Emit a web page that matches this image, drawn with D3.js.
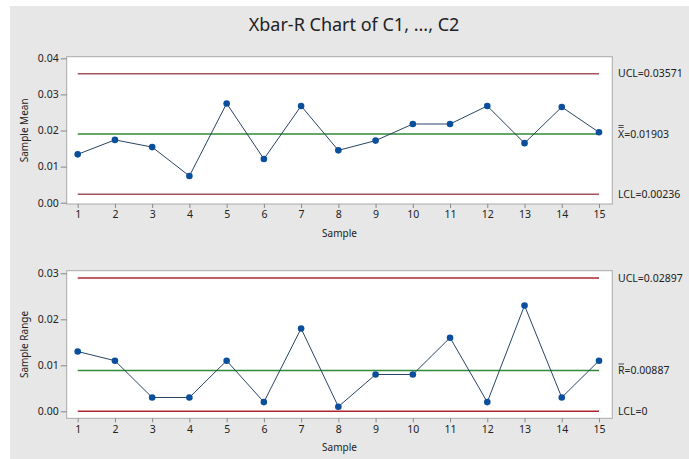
<!DOCTYPE html>
<html>
<head>
<meta charset="utf-8">
<script src="https://cdn.jsdelivr.net/npm/d3@7"></script>
<style>
  body { margin: 0; background: #fff; }
  text { font-family: "Noto Sans", "DejaVu Sans", sans-serif; fill: #222; }
</style>
</head>
<body>
<div id="chart"></div>
<script>
// data
const samples = d3.range(1, 16);
const sampleMeans = [0.0134, 0.0174, 0.0154, 0.0074, 0.0275, 0.0121, 0.0268, 0.0145,
  0.0172, 0.0218, 0.0218, 0.0268, 0.0165, 0.0265, 0.0195];
const sampleRanges = [0.013, 0.011, 0.003, 0.003, 0.011, 0.002, 0.018, 0.001,
  0.008, 0.008, 0.016, 0.002, 0.023, 0.003, 0.011];
const meanLimits = [0.03571, 0.01903, 0.00236];
const meanLimitLabels = [["", "UCL=0.03571"], ["X", "=0.01903"], ["", "LCL=0.00236"]];
const meanBars = [0, 2, 0];
const rangeLimits = [0.02897, 0.00887, 0];
const rangeLimitLabels = [["", "UCL=0.02897"], ["R", "=0.00887"], ["", "LCL=0"]];
const rangeBars = [0, 1, 0];
const meanTicks = [0, 0.01, 0.02, 0.03, 0.04];
const rangeTicks = [0, 0.01, 0.02, 0.03];

const width = 689, height = 459;
const frameLeft = 66.7, frameRight = 612.3;

const svg = d3.select("#chart").append("svg")
  .attr("width", width)
  .attr("height", height);

svg.append("rect")
  .attr("x", 10).attr("y", 6)
  .attr("width", width - 10).attr("height", height - 6)
  .attr("fill", "#e7e7e7");

svg.append("text")
  .attr("x", 354).attr("y", 31)
  .attr("text-anchor", "middle")
  .style("font-size", "18px")
  .text("Xbar-R Chart of C1, ..., C2");

const x = d3.scaleLinear().domain([1, 15]).range([77.7, 599]);

const drawPanel = (cfg) => {
  const y = d3.scaleLinear().domain(cfg.domain).range(cfg.range);
  const g = svg.append("g");

  g.append("rect")
    .attr("x", frameLeft).attr("y", cfg.top)
    .attr("width", frameRight - frameLeft).attr("height", cfg.bottom - cfg.top)
    .attr("fill", "#fff")
    .attr("stroke", "#a9a9a9")
    .attr("stroke-width", 1);

  // y axis
  const ya = g.append("g")
    .attr("transform", `translate(${frameLeft},0)`)
    .call(d3.axisLeft(y).tickValues(cfg.ticks).tickFormat(d3.format(".2f")).tickSize(6).tickPadding(2));
  ya.select(".domain").remove();
  ya.selectAll("line").attr("stroke", "#888");
  ya.selectAll("text").style("font-size", "10.5px").attr("fill", "#222");

  // x axis
  const xa = g.append("g")
    .attr("transform", `translate(0,${cfg.bottom})`)
    .call(d3.axisBottom(x).tickValues(samples).tickFormat(d3.format("d")).tickSize(4).tickPadding(3));
  xa.select(".domain").remove();
  xa.selectAll("line").attr("stroke", "#888");
  xa.selectAll("text").style("font-size", "10.5px").attr("fill", "#222");

  g.append("text")
    .attr("x", (frameLeft + frameRight) / 2).attr("y", cfg.bottom + 33)
    .attr("text-anchor", "middle")
    .style("font-size", "10px")
    .text("Sample");

  g.append("text")
    .attr("transform", `translate(28,${(cfg.top + cfg.bottom) / 2}) rotate(-90)`)
    .attr("text-anchor", "middle")
    .style("font-size", "10px")
    .text(cfg.yLabel);

  // control limits
  const colors = [cfg.limitColor, "#2f8a3a", cfg.limitColor];
  g.selectAll(".limit").data(cfg.limits).enter().append("line")
    .attr("x1", x(1)).attr("x2", x(15))
    .attr("y1", d => y(d)).attr("y2", d => y(d))
    .attr("stroke", (d, i) => colors[i])
    .attr("stroke-width", 1.5);

  cfg.limits.forEach((d, i) => {
    const [sym, rest] = cfg.limitLabels[i];
    const t = g.append("text")
      .attr("x", 618).attr("y", y(d))
      .attr("dy", "0.35em")
      .style("font-size", "10.5px");
    const s = t.append("tspan").text(sym);
    t.append("tspan").text(rest);
    if (cfg.bars[i] > 0) {
      // overbars above the symbol
      const w = s.node().getComputedTextLength();
      for (let b = 0; b < cfg.bars[i]; b++) {
        g.append("line")
          .attr("x1", 618.5).attr("x2", 618 + w - 0.5)
          .attr("y1", y(d) - 6.5 - b * 2).attr("y2", y(d) - 6.5 - b * 2)
          .attr("stroke", "#222")
          .attr("stroke-width", 0.8);
      }
    }
  });

  // data line and points
  const line = d3.line().x((d, i) => x(samples[i])).y(d => y(d));
  g.append("path")
    .datum(cfg.values)
    .attr("d", line)
    .attr("fill", "none")
    .attr("stroke", "#2a4466")
    .attr("stroke-width", 1);

  g.selectAll(".pt").data(cfg.values).enter().append("circle")
    .attr("cx", (d, i) => x(samples[i]))
    .attr("cy", d => y(d))
    .attr("r", 3.3)
    .attr("fill", "#0b4f9c");
};

drawPanel({
  domain: [0, 0.04], range: [202.7, 58.3], top: 56.7, bottom: 204,
  ticks: meanTicks, values: sampleMeans, limits: meanLimits,
  limitLabels: meanLimitLabels, bars: meanBars, limitColor: "#a4535c", yLabel: "Sample Mean"
});

drawPanel({
  domain: [0, 0.03], range: [411.3, 273.3], top: 270.7, bottom: 418.3,
  ticks: rangeTicks, values: sampleRanges, limits: rangeLimits,
  limitLabels: rangeLimitLabels, bars: rangeBars, limitColor: "#b0262e", yLabel: "Sample Range"
});
</script>
</body>
</html>
